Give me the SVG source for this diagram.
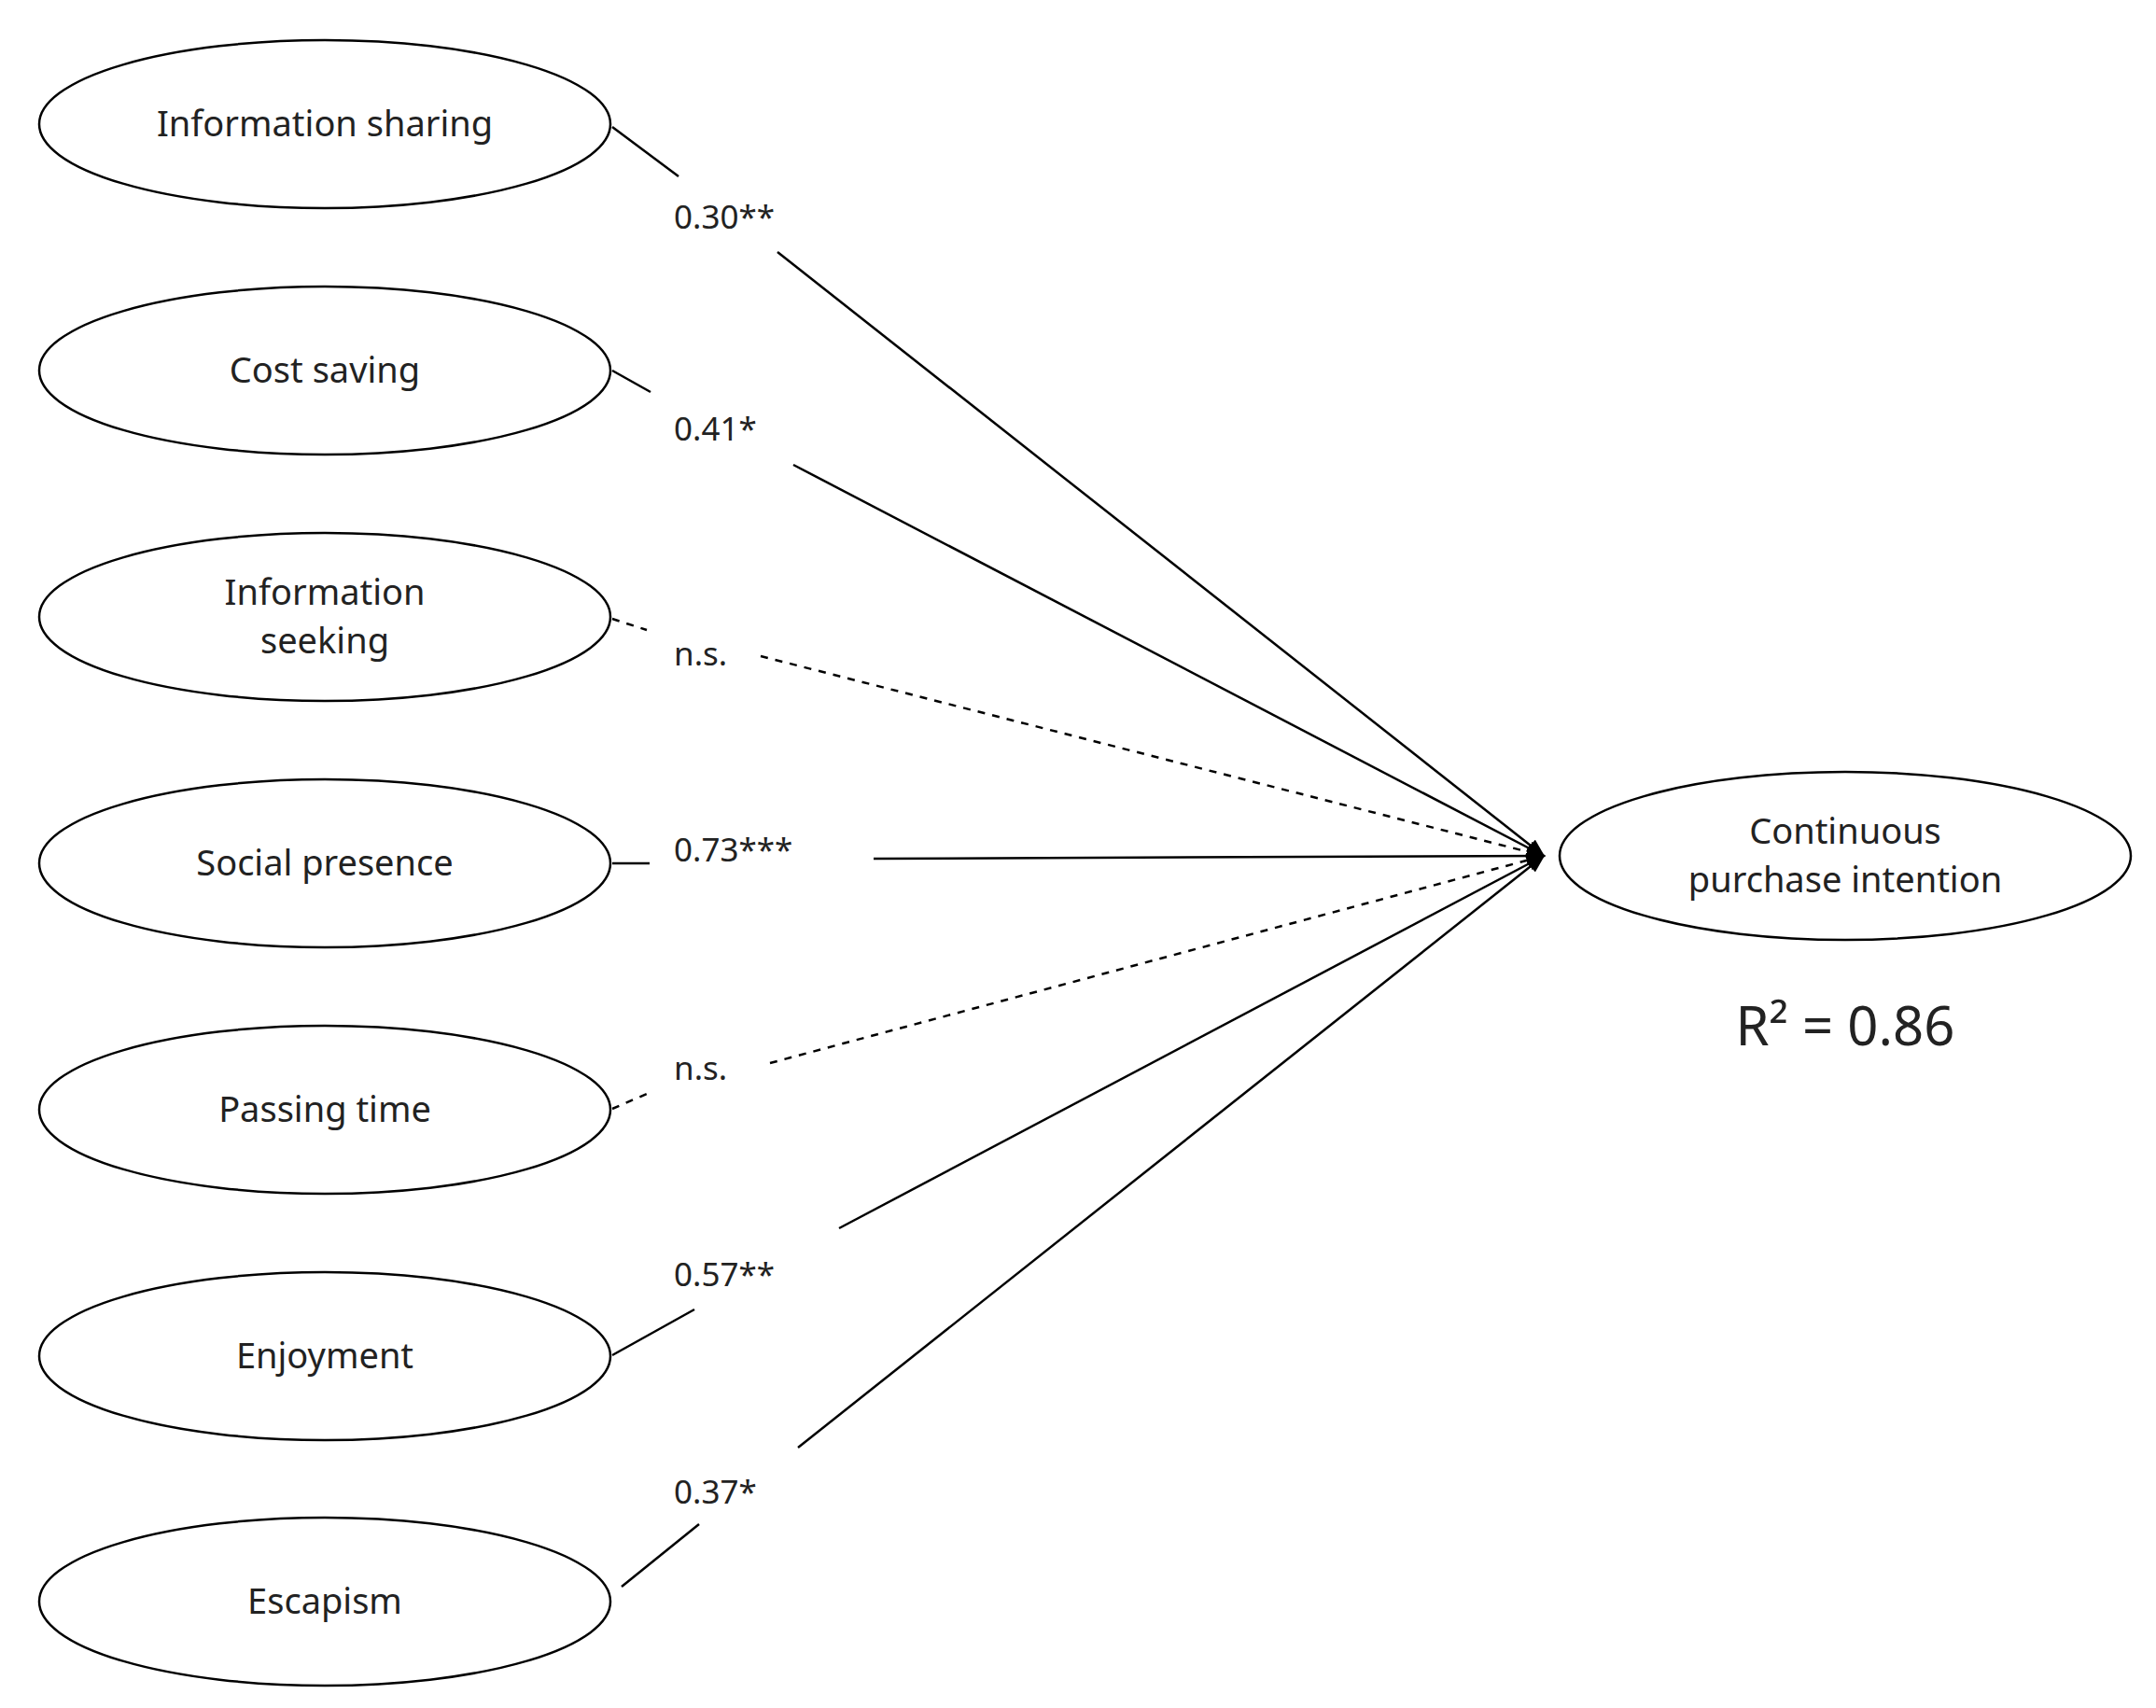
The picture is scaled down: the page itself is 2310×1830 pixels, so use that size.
<svg xmlns="http://www.w3.org/2000/svg" width="2310" height="1830" viewBox="0 0 2310 1830">
<style>
.n ellipse{fill:#fff;stroke:#000;stroke-width:2.5}
text{font-family:"Noto Sans","DejaVu Sans",sans-serif;fill:#222}
.t{font-size:38px;text-anchor:middle}
.l{font-size:35px}
.c line{stroke:#000;stroke-width:2.5}
.c .d{stroke-dasharray:8 8}
</style>
<defs><marker id="a" markerWidth="20" markerHeight="16" refX="18" refY="8" orient="auto" markerUnits="userSpaceOnUse"><path d="M0,0 L20,8 L0,16 Z" fill="#000"/></marker></defs>
<rect width="2310" height="1830" fill="#fff"/>
<g class="c">
<line x1="656" y1="136" x2="727" y2="189"/><line x1="833" y1="270" x2="1654" y2="917" marker-end="url(#a)"/>
<line x1="656" y1="397" x2="697" y2="420"/><line x1="850" y1="498" x2="1654" y2="917" marker-end="url(#a)"/>
<line class="d" x1="656" y1="663" x2="693" y2="675"/><line class="d" x1="815" y1="703" x2="1654" y2="917" marker-end="url(#a)"/>
<line x1="656" y1="925" x2="696" y2="925"/><line x1="936" y1="920" x2="1654" y2="917" marker-end="url(#a)"/>
<line class="d" x1="656" y1="1188" x2="693" y2="1172"/><line class="d" x1="825" y1="1139" x2="1654" y2="917" marker-end="url(#a)"/>
<line x1="656" y1="1452" x2="744" y2="1403"/><line x1="899" y1="1316" x2="1654" y2="917" marker-end="url(#a)"/>
<line x1="666" y1="1700" x2="749" y2="1633"/><line x1="855" y1="1551" x2="1654" y2="917" marker-end="url(#a)"/>
</g>
<g class="l">
<text class="l" x="722" y="245">0.30**</text>
<text class="l" x="722" y="472">0.41*</text>
<text class="l" x="722" y="713">n.s.</text>
<text class="l" x="722" y="923">0.73***</text>
<text class="l" x="722" y="1157">n.s.</text>
<text class="l" x="722" y="1378">0.57**</text>
<text class="l" x="722" y="1611">0.37*</text>
</g>
<g id="n1" class="n"><ellipse cx="348" cy="133" rx="306" ry="90"/><text class="t" x="348" y="146">Information sharing</text></g>
<g id="n2" class="n"><ellipse cx="348" cy="397" rx="306" ry="90"/><text class="t" x="348" y="410">Cost saving</text></g>
<g id="n3" class="n"><ellipse cx="348" cy="661" rx="306" ry="90"/><text class="t" x="348" y="648">Information</text><text class="t" x="348" y="700">seeking</text></g>
<g id="n4" class="n"><ellipse cx="348" cy="925" rx="306" ry="90"/><text class="t" x="348" y="938">Social presence</text></g>
<g id="n5" class="n"><ellipse cx="348" cy="1189" rx="306" ry="90"/><text class="t" x="348" y="1202">Passing time</text></g>
<g id="n6" class="n"><ellipse cx="348" cy="1453" rx="306" ry="90"/><text class="t" x="348" y="1466">Enjoyment</text></g>
<g id="n7" class="n"><ellipse cx="348" cy="1716" rx="306" ry="90"/><text class="t" x="348" y="1729">Escapism</text></g>
<g id="n8" class="n"><ellipse cx="1977" cy="917" rx="306" ry="90"/><text class="t" x="1977" y="904">Continuous</text><text class="t" x="1977" y="956">purchase intention</text></g>
<text x="1977" y="1120" font-size="58" text-anchor="middle">R² = 0.86</text>
</svg>
